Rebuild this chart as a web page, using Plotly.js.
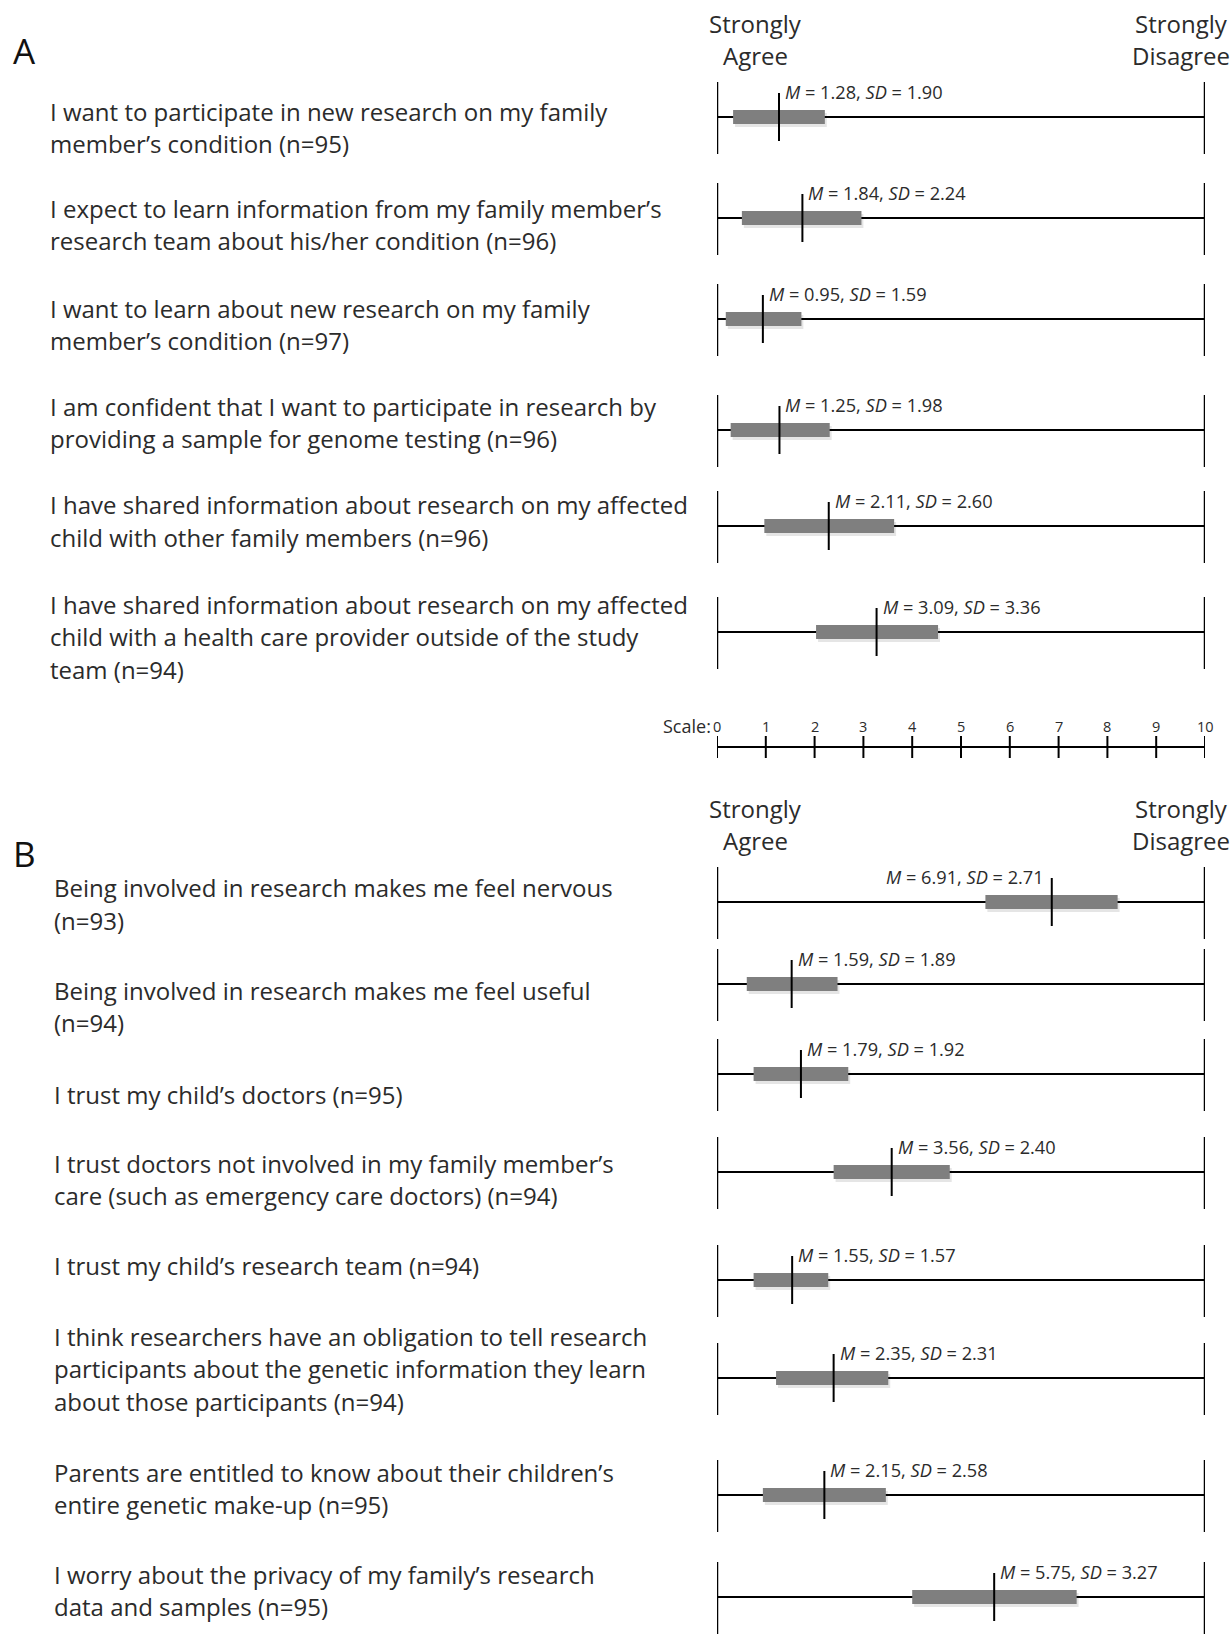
<!DOCTYPE html>
<html><head><meta charset="utf-8">
<script src="https://cdn.plot.ly/plotly-3.0.1.min.js"></script>
<style>html,body{margin:0;padding:0;background:#fff}</style>
</head><body><div id="chart" style="width:1231px;height:1641px"></div>
<script>
// ---------- DATA ----------
const questionsA = [
  "I want to participate in new research on my family<br>member’s condition (n=95)",
  "I expect to learn information from my family member’s<br>research team about his/her condition (n=96)",
  "I want to learn about new research on my family<br>member’s condition (n=97)",
  "I am confident that I want to participate in research by<br>providing a sample for genome testing (n=96)",
  "I have shared information about research on my affected<br>child with other family members (n=96)",
  "I have shared information about research on my affected<br>child with a health care provider outside of the study<br>team (n=94)"
];
const meanA = [1.28, 1.84, 0.95, 1.25, 2.11, 3.09];
const sdA   = [1.90, 2.24, 1.59, 1.98, 2.60, 3.36];
const barLowA  = [0.33, 0.51, 0.18, 0.28, 0.97, 2.03];
const barHighA = [2.21, 2.96, 1.73, 2.31, 3.63, 4.53];
const drawnMeanA = [1.27, 1.75, 0.94, 1.28, 2.29, 3.27];

const questionsB = [
  "Being involved in research makes me feel nervous<br>(n=93)",
  "Being involved in research makes me feel useful<br>(n=94)",
  "I trust my child’s doctors (n=95)",
  "I trust doctors not involved in my family member’s<br>care (such as emergency care doctors) (n=94)",
  "I trust my child’s research team (n=94)",
  "I think researchers have an obligation to tell research<br>participants about the genetic information they learn<br>about those participants (n=94)",
  "Parents are entitled to know about their children’s<br>entire genetic make-up (n=95)",
  "I worry about the privacy of my family’s research<br>data and samples (n=95)"
];
const meanB = [6.91, 1.59, 1.79, 3.56, 1.55, 2.35, 2.15, 5.75];
const sdB   = [2.71, 1.89, 1.92, 2.40, 1.57, 2.31, 2.58, 3.27];
const barLowB  = [5.50, 0.61, 0.75, 2.39, 0.75, 1.21, 0.94, 4.00];
const barHighB = [8.21, 2.47, 2.69, 4.77, 2.28, 3.51, 3.46, 7.37];
const drawnMeanB = [6.86, 1.53, 1.72, 3.58, 1.54, 2.39, 2.20, 5.68];

const scaleTicks = [0,1,2,3,4,5,6,7,8,9,10];
const scaleLabels = ["0","1","2","3","4","5","6","7","8","9","10"];
const anchorLow = ["Strongly","Agree"];
const anchorHigh = ["Strongly","Disagree"];

// ---------- LAYOUT (pixel positions) ----------
const W = 1231, H = 1641;
const rowYA = [117, 218, 319, 430, 526, 632];
const textYA = [111, 208, 308, 406, 504.6, 604];
const rowYB = [902, 984, 1074, 1172, 1280, 1378, 1495, 1597];
const textYB = [887.7, 990, 1094, 1163, 1265.6, 1336, 1472, 1574];
const textXA = 48, textXB = 52;
const lineGap = 32.5;
const FONT = "'Open Sans', Lato, sans-serif";
const TXT = "#2b2b2b";
const QSIZE = 24, LSIZE = 18.2;

const shapes = [], annotations = [], traces = [];

function panel(questions, mean, sd, lo, hi, drawn, rowY, textY, textX) {
  traces.push({
    type: 'bar', orientation: 'h',
    y: rowY.map(v => v + 3), base: lo.map(v => v + 0.04),
    x: hi.map((h, i) => h - lo[i]), width: 14,
    marker: {color: 'rgba(0,0,0,0.10)', line: {width: 0}},
    hoverinfo: 'skip', showlegend: false
  });
  traces.push({
    type: 'bar', orientation: 'h',
    y: rowY, base: lo, x: hi.map((h, i) => h - lo[i]), width: 14,
    marker: {color: '#7f7f7f', line: {width: 0}},
    hoverinfo: 'skip', showlegend: false
  });
  rowY.forEach((y, i) => {
    shapes.push({type: 'line', xref: 'x', yref: 'y', x0: 0, x1: 10, y0: y, y1: y,
                 line: {color: '#000', width: 2}, layer: 'below'});
    [0, 10].forEach(xe => shapes.push({type: 'line', xref: 'x', yref: 'y', x0: xe, x1: xe,
                 y0: y - 35, y1: y + 37, line: {color: '#000', width: 2.5}, layer: 'below'}));
    shapes.push({type: 'line', xref: 'x', yref: 'y', x0: drawn[i], x1: drawn[i],
                 y0: y - 24, y1: y + 24, line: {color: '#000', width: 2}, layer: 'above'});
    const left = mean[i] > 6;
    annotations.push({xref: 'x', yref: 'y', x: drawn[i], y: y - 25,
      xanchor: left ? 'right' : 'left', xshift: left ? -6 : 4, yanchor: 'middle',
      showarrow: false,
      text: '<i>M</i> = ' + mean[i].toFixed(2) + ', <i>SD</i> = ' + sd[i].toFixed(2),
      font: {family: FONT, size: LSIZE, color: TXT}});
    questions[i].split('<br>').forEach((ln, k) => {
      annotations.push({xref: 'paper', yref: 'y', x: textX / W, y: textY[i] + k * lineGap,
        xanchor: 'left', yanchor: 'middle', showarrow: false, text: ln,
        font: {family: FONT, size: QSIZE, color: TXT}});
    });
  });
}
panel(questionsA, meanA, sdA, barLowA, barHighA, drawnMeanA, rowYA, textYA, textXA);
panel(questionsB, meanB, sdB, barLowB, barHighB, drawnMeanB, rowYB, textYB, textXB);

function anchors(yTop) {
  anchorLow.forEach((t, k) => annotations.push({xref: 'paper', yref: 'y', x: 755 / W, y: yTop + k * lineGap,
    xanchor: 'center', yanchor: 'middle', showarrow: false, text: t, font: {family: FONT, size: QSIZE, color: TXT}}));
  anchorHigh.forEach((t, k) => annotations.push({xref: 'paper', yref: 'y', x: 1181 / W, y: yTop + k * lineGap,
    xanchor: 'center', yanchor: 'middle', showarrow: false, text: t, font: {family: FONT, size: QSIZE, color: TXT}}));
}
anchors(23);
anchors(808);

annotations.push({xref: 'paper', yref: 'y', x: 11 / W, y: 50, xanchor: 'left', yanchor: 'middle',
  showarrow: false, text: 'A', font: {family: FONT, size: 35, color: '#111'}});
annotations.push({xref: 'paper', yref: 'y', x: 11 / W, y: 853, xanchor: 'left', yanchor: 'middle',
  showarrow: false, text: 'B', font: {family: FONT, size: 35, color: '#111'}});

const scaleY = 747;
shapes.push({type: 'line', xref: 'x', yref: 'y', x0: 0, x1: 10, y0: scaleY, y1: scaleY, line: {color: '#000', width: 2}});
scaleTicks.forEach((v, i) => {
  shapes.push({type: 'line', xref: 'x', yref: 'y', x0: v, x1: v, y0: scaleY - 11, y1: scaleY + 11, line: {color: '#000', width: 2}});
  annotations.push({xref: 'x', yref: 'y', x: v, y: scaleY - 21, xanchor: 'center', yanchor: 'middle',
    showarrow: false, text: scaleLabels[i], font: {family: FONT, size: 14.5, color: TXT}});
});
annotations.push({xref: 'x', yref: 'y', x: 0, y: scaleY - 21, xanchor: 'right', xshift: -4, yanchor: 'middle',
  showarrow: false, text: 'Scale:', font: {family: FONT, size: 18, color: TXT}});

const layout = {
  width: W, height: H,
  margin: {l: 0, r: 0, t: 0, b: 0},
  paper_bgcolor: '#fff', plot_bgcolor: '#fff',
  barmode: 'overlay',
  showlegend: false,
  xaxis: {domain: [717 / W, 1205 / W], range: [0, 10], visible: false, fixedrange: true},
  yaxis: {domain: [0, 1], range: [H, 0], visible: false, fixedrange: true},
  shapes: shapes, annotations: annotations
};
Plotly.newPlot('chart', traces, layout, {displayModeBar: false, staticPlot: true});
</script>
</body></html>
